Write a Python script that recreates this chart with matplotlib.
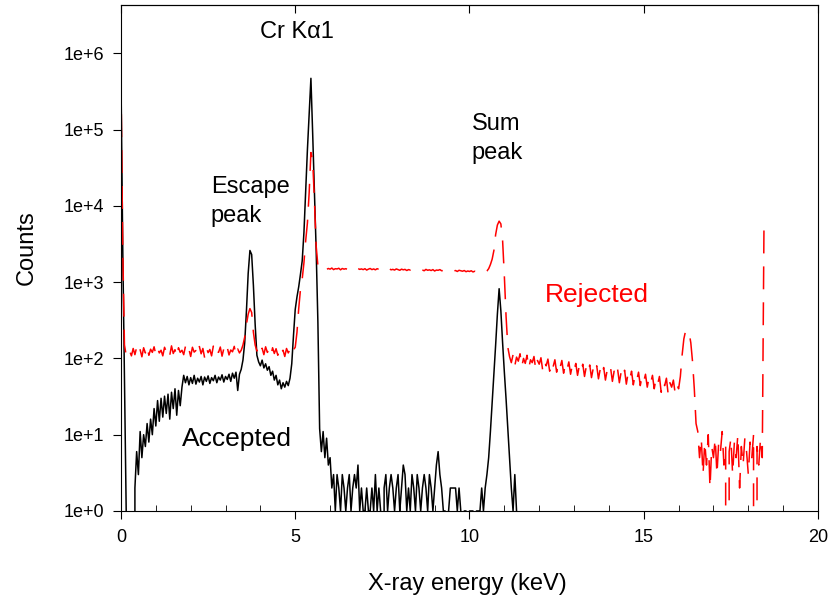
import matplotlib
matplotlib.use('Agg')

import numpy as np
import matplotlib.pyplot as plt
from matplotlib.ticker import MultipleLocator, NullLocator, FuncFormatter

plt.rcParams['font.family'] = ['Liberation Sans', 'DejaVu Sans']

# detector channel width (keV); counts below are one value per channel
channel_kev = 0.05

# Accepted events, channels 0.00 .. 11.40 keV
accepted_counts = [
    470000, 3000, 60, 1, 0, 0, 0, 0, 2, 6,
    3, 11, 5, 10, 7, 14, 8, 16, 10, 22,
    13, 28, 15, 30, 17, 32, 19, 34, 16, 36,
    22, 40, 18, 38, 24, 42, 60, 48, 58, 45,
    56, 47, 60, 46, 55, 49, 58, 45, 57, 50,
    59, 47, 56, 51, 60, 48, 57, 52, 61, 49,
    58, 53, 62, 50, 64, 55, 66, 38, 62, 72,
    95, 160, 420, 1300, 2600, 2300, 900, 280, 110, 90,
    80, 95, 75, 85, 70, 78, 60, 68, 52, 60,
    45, 52, 40, 48, 42, 50, 44, 55, 85, 200,
    440, 640, 870, 1270, 1900, 4500, 16000, 55000, 160000, 470000,
    90000, 15000, 2700, 300, 12, 6, 11, 5, 9, 4,
    5, 2, 3, 1, 3, 2, 1, 3, 2, 1,
    2, 3, 1, 2, 3, 2, 4, 1, 2, 1,
    1, 2, 1, 1, 2, 1, 3, 1, 2, 1,
    0, 2, 3, 1, 2, 3, 2, 1, 2, 3,
    1, 2, 4, 3, 1, 2, 1, 3, 2, 1,
    3, 2, 1, 2, 3, 2, 1, 3, 2, 1,
    2, 4, 6, 3, 2, 1, 1, 0, 1, 2,
    2, 2, 2, 1, 2, 1, 0, 1, 1, 0,
    1, 1, 1, 0, 1, 1, 1, 2, 1, 2,
    3, 5, 11, 26, 64, 150, 380, 820, 420, 160,
    66, 29, 12, 5, 2, 1, 3, 1, 0,
]

# Rejected events, channels 0.00 .. 18.45 keV
rejected_counts = [
    470000, 3000, 150, 110, 105, 125, 108, 135, 112, 140,
    115, 130, 105, 138, 118, 145, 110, 132, 120, 142,
    112, 136, 118, 128, 108, 140, 122, 134, 110, 146,
    116, 130, 104, 138, 120, 128, 112, 144, 118, 132,
    106, 140, 121, 127, 110, 143, 115, 135, 102, 138,
    119, 131, 108, 145, 114, 126, 120, 141, 107, 134,
    117, 139, 111, 129, 122, 144, 109, 133, 118, 128,
    150, 190, 280, 380, 450, 400, 220, 150, 125, 140,
    118, 136, 112, 142, 120, 130, 108, 138, 116, 134,
    110, 140, 121, 128, 106, 135, 118, 131, 112, 130,
    140, 220, 450, 800, 1100, 1800, 3500, 6000, 15000, 50000,
    40000, 12000, 3000, 1650, 1500, 1540, 1490, 1520, 1470, 1510,
    1480, 1530, 1460, 1500, 1490, 1520, 1450, 1510, 1480, 1500,
    1470, 1520, 1460, 1490, 1500, 1450, 1510, 1470, 1490, 1460,
    1500, 1440, 1480, 1510, 1460, 1490, 1450, 1500, 1470, 1440,
    1490, 1460, 1480, 1430, 1500, 1450, 1470, 1440, 1490, 1460,
    1430, 1480, 1450, 1470, 1420, 1460, 1440, 1480, 1430, 1450,
    1470, 1420, 1460, 1440, 1410, 1470, 1430, 1450, 1420, 1460,
    1400, 1440, 1430, 1460, 1410, 1420, 1450, 1390, 1430, 1410,
    1440, 1400, 1420, 1380, 1430, 1410, 1390, 1420, 1370, 1400,
    1380, 1410, 1360, 1390, 1370, 1350, 1400, 1360, 1380, 1350,
    1400, 1500, 1700, 2000, 2600, 4200, 5600, 6300, 5800, 3500,
    1200, 350, 140, 105, 88, 112, 80, 104, 92, 115,
    78, 100, 86, 110, 74, 96, 88, 106, 72, 94,
    84, 102, 70, 92, 80, 98, 68, 90, 78, 96,
    66, 88, 76, 94, 64, 84, 72, 90, 62, 82,
    70, 86, 60, 80, 68, 84, 58, 78, 66, 82,
    56, 74, 64, 80, 54, 72, 60, 76, 52, 70,
    62, 74, 50, 68, 58, 72, 48, 66, 56, 70,
    46, 64, 54, 68, 45, 60, 52, 66, 44, 58,
    50, 62, 42, 56, 48, 60, 40, 54, 46, 58,
    36, 50, 44, 55, 34, 48, 42, 52, 35, 45,
    40, 58, 110, 180, 230, 235, 220, 160, 90, 40,
    14, 11, 5, 9, 3, 8, 4, 10, 2, 7,
    5, 9, 3, 8, 6, 11, 4, 7, 0, 6,
    9, 3, 8, 5, 10, 2, 7, 4, 9, 6,
    3, 8, 5, 10, 0, 7, 4, 9, 5, 6000,
]

energy_acc = np.arange(len(accepted_counts)) * channel_kev
energy_rej = np.arange(len(rejected_counts)) * channel_kev

x_ticks = [0, 5, 10, 15, 20]
y_ticks = [1e0, 1e1, 1e2, 1e3, 1e4, 1e5, 1e6]

fig = plt.figure(figsize=(8.36, 6.07), dpi=100)
ax = fig.add_axes([0.1447, 0.1582, 0.8338, 0.8336])

ax.plot(energy_acc, accepted_counts, color='black', lw=1.1)
ax.plot(energy_rej, rejected_counts, color='#ff0000', lw=1.1, dashes=(15, 8.5))

ax.set_yscale('log', nonpositive='clip')
ax.set_xlim(0, 20)
ax.set_ylim(1, 4.3e6)

ax.set_xticks(x_ticks)
ax.xaxis.set_minor_locator(MultipleLocator(1))
ax.tick_params(axis='x', which='major', direction='out', length=6, labelsize=13, pad=7, top=False)
ax.tick_params(axis='x', which='minor', direction='in', length=4, top=False)

top = ax.secondary_xaxis('top')
top.set_xticks(x_ticks)
top.set_xticklabels([])
top.xaxis.set_minor_locator(NullLocator())
top.tick_params(direction='in', length=6)

ax.set_yticks(y_ticks)
ax.yaxis.set_minor_locator(NullLocator())
ax.yaxis.set_major_formatter(FuncFormatter(lambda v, p: '1e+%d' % round(np.log10(v))))
ax.tick_params(axis='y', direction='out', length=6, labelsize=13, pad=6, right=False)

ax.set_xlabel('X-ray energy (keV)', fontsize=17)
ax.xaxis.set_label_coords(0.497, -0.122)
ax.set_ylabel('Counts', fontsize=17)
ax.yaxis.set_label_coords(-0.12, 0.52)

ax.text(5.05, 1.9e6, 'Cr K\u03b11', fontsize=17, ha='center', va='center')
ax.text(2.58, 11400, 'Escape\npeak', fontsize=17, ha='left', va='center', linespacing=1.4)
ax.text(10.07, 76000, 'Sum\npeak', fontsize=17, ha='left', va='center', linespacing=1.4)
ax.text(3.33, 8.8, 'Accepted', fontsize=19, ha='center', va='center')
ax.text(13.66, 680, 'Rejected', fontsize=19, ha='center', va='center', color='#ff0000')

fig.savefig('out.png', dpi=100)
